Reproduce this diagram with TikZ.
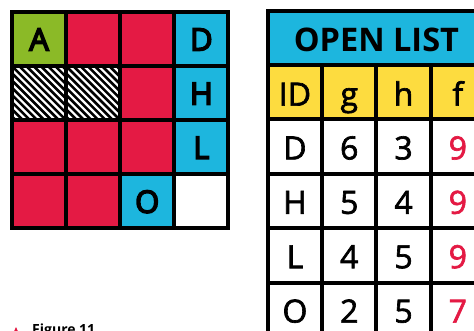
\documentclass[tikz,border=0pt]{standalone}
\usepackage{fontspec}
\setmainfont{Open Sans}
\newfontfamily\datafont[FakeBold=2]{Open Sans}
\newfontfamily\gridfont[FakeBold=5]{Open Sans}
\usepackage{xcolor}
\definecolor{MazeGreen}{HTML}{8BBA27}
\definecolor{MazeRed}{HTML}{E41A44}
\definecolor{MazeBlue}{HTML}{1DB6DE}
\definecolor{HeadYellow}{HTML}{FDDC3F}
\usepackage{tikz}

\begin{document}
\begin{tikzpicture}[x=1pt, y=-1pt,
  gridcell/.style={rectangle, draw=black, line width=4pt,
                   minimum width=\cellw pt, minimum height=\cellw pt, inner sep=0pt,
                   font=\gridfont\fontsize{31}{31}\selectfont,
                   text height=23pt, text depth=0pt},
  hatchcell/.style={gridcell, fill=white,
                    path picture={
                      \foreach \k in {-9,...,9}
                        \draw[line width=2.6pt]
                          ([xshift=\k*7.2pt]path picture bounding box.north west)
                          -- ++(62pt,-62pt);
                    }},
  tblcell/.style={rectangle, draw=black, line width=4pt, fill=white,
                  minimum width=\colw pt, minimum height=\rowh pt, inner sep=0pt,
                  font=\datafont\fontsize{32}{32}\selectfont,
                  text height=25.8pt, text depth=0pt},
  tblhead/.style={tblcell, font=\fontsize{32.5}{32.5}\selectfont\bfseries,
                  text height=27pt},
]
\def\cellw{54.1}
\def\colw{54.3}
\def\rowh{54.4}
\useasboundingbox (0,0) rectangle (474,330);
\fill[white] (0,0) rectangle (474,330);
\clip (0,0) rectangle (474,330);

% maze grid
\foreach \r/\c/\f/\t in {1/1/MazeGreen/A, 1/2/MazeRed/{}, 1/3/MazeRed/{}, 1/4/MazeBlue/D,
                         2/3/MazeRed/{}, 2/4/MazeBlue/H,
                         3/1/MazeRed/{}, 3/2/MazeRed/{}, 3/3/MazeRed/{}, 3/4/MazeBlue/L,
                         4/1/MazeRed/{}, 4/2/MazeRed/{}, 4/3/MazeBlue/O, 4/4/white/{}} {
  \node[gridcell, fill=\f] (g-\r-\c)
    at ({12+(\c-0.5)*\cellw},{12+(\r-0.5)*\cellw}) {\t};
}
\node[hatchcell] (g-2-1) at ({12+0.5*\cellw},{12+1.5*\cellw}) {};
\node[hatchcell] (g-2-2) at ({12+1.5*\cellw},{12+1.5*\cellw}) {};

% open list
\node[tblhead, fill=MazeBlue, minimum width={4*\colw pt}, minimum height=53.4pt]
  (open-list) at ({267.8+2*\colw},38) {OPEN LIST};
\foreach \c/\t in {1/ID, 2/g, 3/h, 4/f} {
  \node[tblcell, fill=HeadYellow, text height=27.2pt] (hd-\c)
    at ({267.8+(\c-0.5)*\colw},92) {\t};
}
\foreach \r/\id/\g/\h/\f in {1/D/6/3/9, 2/H/5/4/9, 3/L/4/5/9, 4/O/2/5/7} {
  \node[tblcell] (id-\r) at ({267.8+0.5*\colw},{119.3+(\r-0.5)*\rowh}) {\id};
  \node[tblcell] (g-\r) at ({267.8+1.5*\colw},{119.3+(\r-0.5)*\rowh}) {\g};
  \node[tblcell] (h-\r) at ({267.8+2.5*\colw},{119.3+(\r-0.5)*\rowh}) {\h};
  \node[tblcell, text=MazeRed] (f-\r) at ({267.8+3.5*\colw},{119.3+(\r-0.5)*\rowh}) {\f};
}

% caption
\fill[MazeRed] (12,336) -- (16,327) -- (20,336) -- cycle;
\node[font=\fontsize{14}{14}\selectfont\bfseries, anchor=base west, inner sep=0pt]
  (fig-cap) at (32,334) {Figure 11};
\end{tikzpicture}
\end{document}
